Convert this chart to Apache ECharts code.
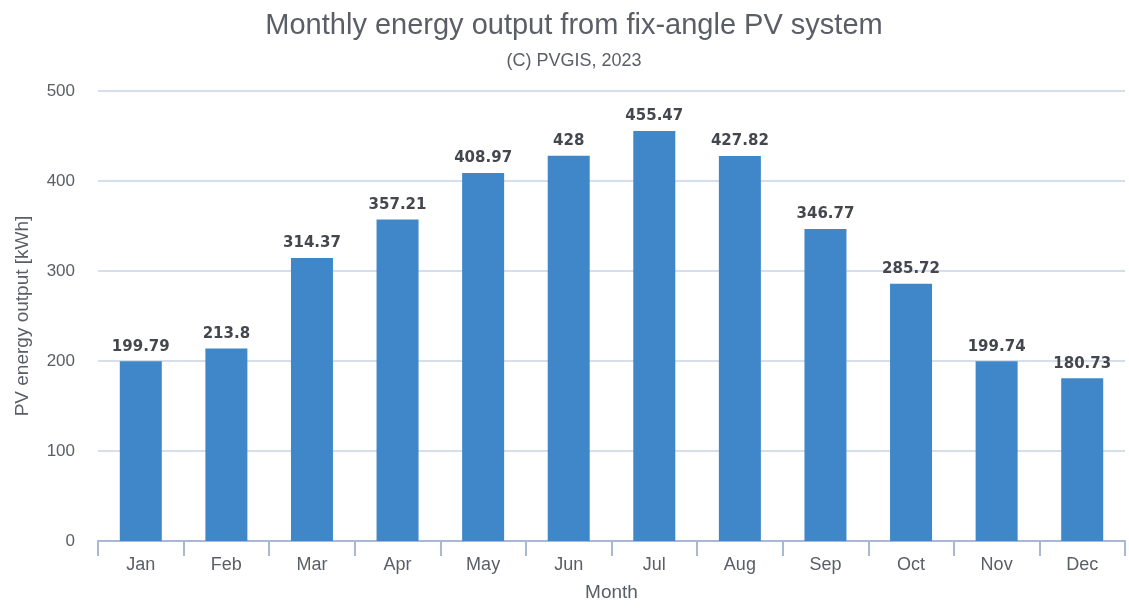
<!DOCTYPE html>
<html>
<head>
<meta charset="utf-8">
<script src="https://cdn.jsdelivr.net/npm/echarts@6/dist/echarts.min.js"></script>
<style>
  html, body { margin: 0; padding: 0; background: #fff; }
  #main { width: 1129px; height: 608px; }
</style>
</head>
<body>
<div id="main"></div>
<script>
var months = ['Jan', 'Feb', 'Mar', 'Apr', 'May', 'Jun', 'Jul', 'Aug', 'Sep', 'Oct', 'Nov', 'Dec'];
var output = [199.79, 213.8, 314.37, 357.21, 408.97, 428, 455.47, 427.82, 346.77, 285.72, 199.74, 180.73];
var yTicks = [0, 100, 200, 300, 400, 500];

var myChart = echarts.init(document.getElementById('main'));
var textColor = '#5a5e66';
var option = {
	backgroundColor: '#ffffff',
	title: [{
		text: 'Monthly energy output from fix-angle PV system',
		left: 569,
		textAlign: 'center',
		top: 6,
		textStyle: {
			color: textColor,
			fontSize: 29,
			fontWeight: 'normal',
			fontFamily: 'Liberation Sans'
		}
	}, {
		text: '(C) PVGIS, 2023',
		left: 569,
		textAlign: 'center',
		top: 47,
		textStyle: {
			color: textColor,
			fontSize: 18,
			fontWeight: 'normal',
			fontFamily: 'Liberation Sans'
		}
	}],
	grid: {
		left: 98,
		right: 4,
		top: 91,
		bottom: 67
	},
	xAxis: {
		type: 'category',
		data: months,
		name: 'Month',
		nameLocation: 'middle',
		nameGap: 42,
		nameTextStyle: {
			color: textColor,
			fontSize: 19,
			fontFamily: 'Liberation Sans'
		},
		axisLine: {
			show: true,
			lineStyle: { color: '#a9b8d4', width: 2 }
		},
		axisTick: {
			show: true,
			length: 15,
			lineStyle: { color: '#a9b8d4', width: 2 }
		},
		axisLabel: {
			color: textColor,
			fontSize: 18,
			margin: 15,
			fontFamily: 'Liberation Sans'
		}
	},
	yAxis: {
		type: 'value',
		min: yTicks[0],
		max: yTicks[yTicks.length - 1],
		interval: 100,
		name: 'PV energy output [kWh]',
		nameLocation: 'middle',
		nameGap: 66,
		nameTextStyle: {
			color: textColor,
			fontSize: 19,
			fontFamily: 'Liberation Sans'
		},
		axisLine: { show: false },
		axisTick: { show: false },
		axisLabel: {
			color: textColor,
			fontSize: 17,
			margin: 23,
			fontFamily: 'Liberation Sans'
		},
		splitLine: {
			show: true,
			lineStyle: { color: '#c9d2e4', width: 1.5 }
		}
	},
	series: [{
		type: 'bar',
		data: output,
		barWidth: 42,
		itemStyle: { color: '#3f87c8' },
		label: {
			show: true,
			position: 'top',
			distance: 7,
			color: '#44474d',
			fontSize: 15,
			fontWeight: 'bold',
			fontFamily: 'DejaVu Sans'
		}
	}]
};
myChart.setOption(option);
</script>
</body>
</html>
